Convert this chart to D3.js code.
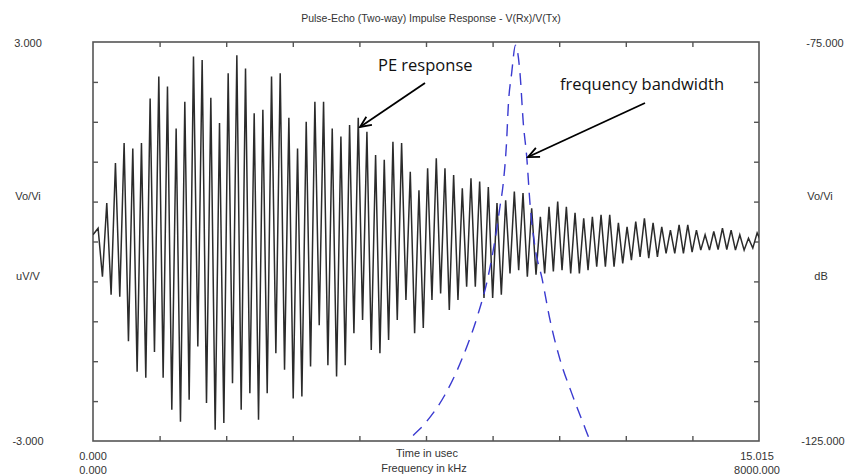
<!DOCTYPE html>
<html>
<head>
<meta charset="utf-8">
<script src="https://d3js.org/d3.v7.min.js"></script>
<style>
  body { margin: 0; background: #fff; }
  .lbl { font-family: "Liberation Sans", Arial, sans-serif; font-size: 11px; fill: #333; }
  .note { font-family: "Open Sans", sans-serif; font-size: 16.5px; fill: #111; }
</style>
</head>
<body>
<svg id="chart" width="847" height="476"></svg>
<script>
// PE response, one positive and one negative peak per cycle (V/V)
const posPeaks = [0.2, 0.58, 1.18, 1.48, 1.4, 1.48, 2.15, 2.48, 2.33, 1.7, 2.1, 2.78, 2.73, 2.16, 1.78, 2.53, 2.8, 2.6, 1.93, 1.98, 2.48, 2.53, 1.86, 1.4, 1.8, 2.1,
  2.1, 1.7, 1.58, 1.75, 1.86, 1.65, 1.3, 1.23, 1.5, 1.48, 1.05, 0.77, 1.1, 1.25, 1.1, 1.0, 0.8, 0.95, 0.9, 0.82, 0.58, 0.62, 0.75, 0.73, 0.5, 0.37,
  0.52, 0.6, 0.52, 0.43, 0.35, 0.37, 0.4, 0.4, 0.28, 0.22, 0.3, 0.35, 0.28, 0.22, 0.17, 0.25, 0.25, 0.17, 0.1, 0.15, 0.2, 0.17, 0.1, 0.05, 0.13];
const negPeaks = [-0.53, -0.8, -0.83, -1.5, -1.96, -2.05, -1.66, -2.05, -2.53, -2.71, -2.38, -1.58, -2.43, -2.83, -2.73, -2.13, -2.53, -2.28, -2.68, -2.28, -1.68, -1.93, -2.36, -2.33, -1.88, -1.26,
  -1.86, -2.03, -1.86, -1.38, -1.18, -1.63, -1.68, -1.48, -1.18, -0.88, -1.38, -1.3, -0.88, -0.78, -1.03, -0.88, -0.68, -0.68, -0.85, -0.85, -0.8, -0.48, -0.43, -0.53, -0.5,
  -0.48, -0.45, -0.43, -0.48, -0.48, -0.43, -0.38, -0.38, -0.38, -0.33, -0.28, -0.23, -0.25, -0.23, -0.18, -0.18, -0.18, -0.16, -0.13, -0.13, -0.12, -0.12, -0.13, -0.13, -0.1, -0.02];
const leadIn = [[0, 0.1]];          // [usec, V/V] before first peak
const cycleStart = 0.115;           // usec of first positive peak
const cyclePeriod = 0.1955;         // usec per cycle

// frequency bandwidth (kHz, dB)
const freqKHz = [3700, 3787, 3988, 4228, 4429, 4628, 4729, 4829, 4889, 4928, 4969, 4988, 5029, 5075,
  5129, 5169, 5210, 5249, 5309, 5393, 5489, 5610, 5750, 5889, 5970, 6050];
const gainDb = [-126.3, -125, -122.8, -119.2, -114.8, -109.0, -105.2, -99.8, -95.6, -92.7, -87.3, -83.1, -78.9, -75.4,
  -78.9, -85.2, -89.4, -95.2, -100.7, -104.6, -109.8, -114.8, -119.0, -122.8, -124.9, -126.3];

const timeRange = [0, 15.015];
const freqRange = [0, 8000];
const voltRange = [-3, 3];
const dbRange = [-125, -75];

const svg = d3.select("#chart");
const plot = { left: 93, right: 759, top: 42, bottom: 441 };

const x = d3.scaleLinear().domain(timeRange).range([plot.left, plot.right]);
const xf = d3.scaleLinear().domain(freqRange).range([plot.left, plot.right]);
const y = d3.scaleLinear().domain(voltRange).range([plot.bottom, plot.top]);
const yd = d3.scaleLinear().domain(dbRange).range([plot.bottom, plot.top]);

const fmt = v => v.toFixed(3);   // keeps plain hyphen for negatives

svg.append("defs").append("clipPath").attr("id", "clip")
  .append("rect")
  .attr("x", plot.left).attr("y", plot.top)
  .attr("width", plot.right - plot.left).attr("height", plot.bottom - plot.top);

// title
svg.append("text").attr("class", "lbl")
  .attr("x", 431).attr("y", 22)
  .attr("text-anchor", "middle")
  .style("font-size", "10.5px")
  .text("Pulse-Echo (Two-way) Impulse Response - V(Rx)/V(Tx)");

// frame with inward ticks on all sides
const frame = svg.append("g");
frame.append("rect")
  .attr("x", plot.left).attr("y", plot.top)
  .attr("width", plot.right - plot.left).attr("height", plot.bottom - plot.top)
  .attr("fill", "none").attr("stroke", "#555").attr("stroke-width", 1.6);

const tickLen = 5;
const xTicks = d3.range(1, 10).map(i => timeRange[0] + i * (timeRange[1] - timeRange[0]) / 10);
const yTicks = d3.range(1, 10).map(i => voltRange[0] + i * (voltRange[1] - voltRange[0]) / 10);

frame.append("g").call(d3.axisTop(x).tickValues(xTicks).tickSize(-tickLen).tickFormat(""))
  .attr("transform", `translate(0,${plot.top})`);
frame.append("g").call(d3.axisBottom(x).tickValues(xTicks).tickSize(-tickLen).tickFormat(""))
  .attr("transform", `translate(0,${plot.bottom})`);
frame.append("g").call(d3.axisLeft(y).tickValues(yTicks).tickSize(-tickLen).tickFormat(""))
  .attr("transform", `translate(${plot.left},0)`);
frame.append("g").call(d3.axisRight(y).tickValues(yTicks).tickSize(-tickLen).tickFormat(""))
  .attr("transform", `translate(${plot.right},0)`);
frame.selectAll(".domain").remove();
frame.selectAll(".tick line").attr("stroke", "#555").attr("stroke-width", 1.4);

// axis labels
const lbl = (tx, ty, s) => svg.append("text").attr("class", "lbl")
  .attr("x", tx).attr("y", ty).attr("text-anchor", "middle").text(s);
lbl(28, 47, fmt(voltRange[1]));
lbl(28, 200, "Vo/Vi");
lbl(28, 280, "uV/V");
lbl(28, 445, fmt(voltRange[0]));
lbl(825, 47, fmt(dbRange[1]));
lbl(820, 200, "Vo/Vi");
lbl(821, 280, "dB");
lbl(823, 445, fmt(dbRange[0]));
lbl(x(timeRange[0]), 460, fmt(timeRange[0]));
lbl(xf(freqRange[0]), 474, fmt(freqRange[0]));
lbl(x(timeRange[1]) - 2, 460, fmt(timeRange[1]));
lbl(xf(freqRange[1]) - 2, 474, fmt(freqRange[1]));
lbl(427, 457, "Time in usec");
lbl(424, 472, "Frequency in kHz");

// build waveform points from peaks
const wave = leadIn.slice();
posPeaks.forEach((p, i) => {
  const t = cycleStart + i * cyclePeriod;
  wave.push([t, p]);
  wave.push([t + cyclePeriod / 2, negPeaks[i]]);
});

const g = svg.append("g").attr("clip-path", "url(#clip)");

g.append("path")
  .datum(wave)
  .attr("fill", "none")
  .attr("stroke", "#2b2b2b")
  .attr("stroke-width", 1.5)
  .attr("stroke-linejoin", "miter")
  .attr("d", d3.line().x(d => x(d[0])).y(d => y(d[1])));

const bw = freqKHz.map((f, i) => [f, gainDb[i]]);
g.append("path")
  .datum(bw)
  .attr("fill", "none")
  .attr("stroke", "#3a3ad0")
  .attr("stroke-width", 1.4)
  .attr("stroke-dasharray", "12,8")
  .attr("d", d3.line().x(d => xf(d[0])).y(d => yd(d[1])).curve(d3.curveMonotoneX));

// annotations
svg.select("defs").append("marker")
  .attr("id", "arrow")
  .attr("viewBox", "-12 -7 14 14")
  .attr("markerUnits", "userSpaceOnUse")
  .attr("markerWidth", 14).attr("markerHeight", 14)
  .attr("refX", 0).attr("refY", 0)
  .attr("orient", "auto")
  .append("path")
  .attr("d", "M-11,-5 L0,0 L-11,5")
  .attr("fill", "none").attr("stroke", "#000").attr("stroke-width", 1.8);

const notes = [
  { text: "PE response", tx: 6.425, ty: 2.57, from: [7.485, 2.383], to: [6.02, 1.722] },
  { text: "frequency bandwidth", tx: 10.528, ty: 2.278, from: [12.445, 2.083], to: [9.807, 1.27] }
];
notes.forEach(n => {
  svg.append("text").attr("class", "note")
    .attr("x", x(n.tx)).attr("y", y(n.ty)).text(n.text);
  svg.append("line")
    .attr("x1", x(n.from[0])).attr("y1", y(n.from[1]))
    .attr("x2", x(n.to[0])).attr("y2", y(n.to[1]))
    .attr("stroke", "#000").attr("stroke-width", 1.8)
    .attr("marker-end", "url(#arrow)");
});
</script>
</body>
</html>
